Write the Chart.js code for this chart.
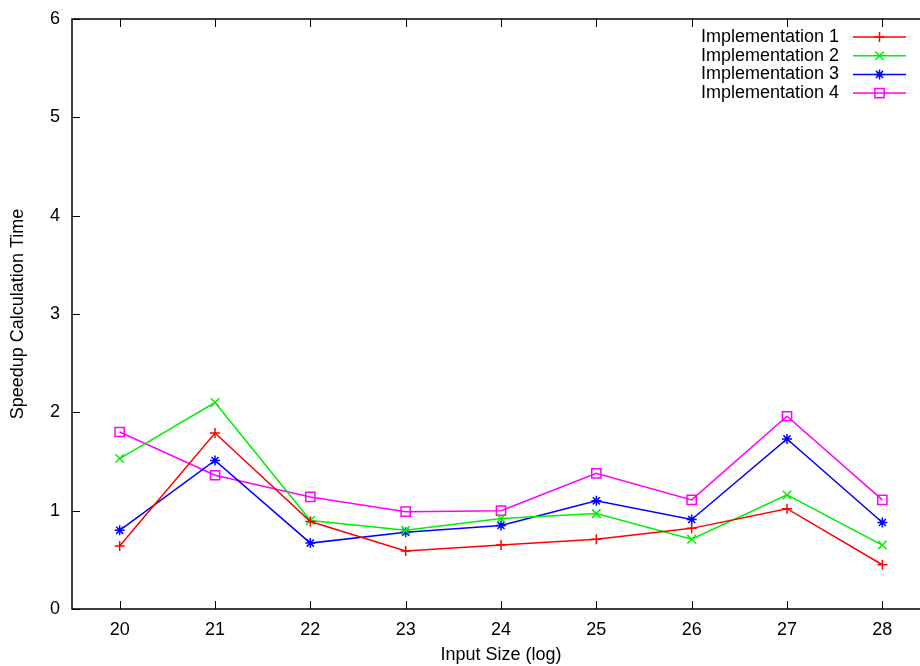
<!DOCTYPE html>
<html>
<head>
<meta charset="utf-8">
<script src="https://cdn.jsdelivr.net/npm/chart.js@4.4.0/dist/chart.umd.min.js"></script>
<style>
html, body { margin: 0; padding: 0; background: #fff; overflow: hidden; }
#wrap { width: 940px; height: 666px; }
</style>
</head>
<body>
<div id="wrap"><canvas id="speedupChart" width="940" height="666"></canvas></div>
<script>
// values
const inputSizes = ['20', '21', '22', '23', '24', '25', '26', '27', '28'];
const impl1 = [0.64, 1.79, 0.89, 0.59, 0.65, 0.71, 0.82, 1.02, 0.45];
const impl2 = [1.53, 2.10, 0.90, 0.80, 0.92, 0.97, 0.71, 1.16, 0.65];
const impl3 = [0.80, 1.51, 0.67, 0.78, 0.85, 1.10, 0.91, 1.73, 0.88];
const impl4 = [1.80, 1.36, 1.14, 0.99, 1.00, 1.38, 1.11, 1.96, 1.11];
const yTicks = [0, 1, 2, 3, 4, 5, 6];

const FONT = '"Liberation Sans", Arial, Helvetica, sans-serif';
Chart.defaults.font.family = FONT;
Chart.defaults.font.size = 18;
Chart.defaults.color = '#000';

function series(label, data, color, style, radius) {
    return {
        label: label,
        data: data,
        borderColor: color,
        backgroundColor: 'rgba(0,0,0,0)',
        borderWidth: 1.5,
        pointStyle: style,
        pointRadius: radius,
        pointHoverRadius: radius,
        pointBorderColor: color,
        pointBackgroundColor: 'rgba(0,0,0,0)',
        pointBorderWidth: 1.5,
        tension: 0,
        fill: false
    };
}

// gnuplot-like frame with inward ticks
const frameTicks = {
    id: 'frameTicks',
    afterDraw(chart) {
        const ctx = chart.ctx;
        const a = chart.chartArea;
        const xs = chart.scales.x, ys = chart.scales.y;
        const tl = 8;
        ctx.save();
        ctx.strokeStyle = '#000';
        ctx.lineWidth = 1.5;
        ctx.strokeRect(a.left, a.top, a.right - a.left, a.bottom - a.top);
        ctx.lineWidth = 1;
        ctx.beginPath();
        xs.ticks.forEach((t, i) => {
            const x = Math.round(xs.getPixelForTick(i)) + 0.5;
            ctx.moveTo(x, a.bottom); ctx.lineTo(x, a.bottom - tl);
            ctx.moveTo(x, a.top); ctx.lineTo(x, a.top + tl);
        });
        ys.ticks.forEach((t, i) => {
            const y = Math.round(ys.getPixelForTick(i)) + 0.5;
            ctx.moveTo(a.left, y); ctx.lineTo(a.left + tl, y);
            ctx.moveTo(a.right, y); ctx.lineTo(a.right - tl, y);
        });
        ctx.stroke();
        ctx.restore();
    }
};

// legend in the top right, text first then the line sample
const gnuLegend = {
    id: 'gnuLegend',
    afterDraw(chart) {
        const ctx = chart.ctx;
        const textRight = 839, lineStart = 853, lineEnd = 906, top = 37, rowGap = 18.7;
        chart.data.datasets.forEach((ds, i) => {
            const y = top + i * rowGap;
            ctx.save();
            ctx.font = '18px ' + FONT;
            ctx.fillStyle = '#000';
            ctx.textAlign = 'right';
            ctx.textBaseline = 'middle';
            ctx.fillText(ds.label, textRight, y);
            ctx.strokeStyle = ds.borderColor;
            ctx.lineWidth = ds.borderWidth;
            ctx.beginPath();
            ctx.moveTo(lineStart, y);
            ctx.lineTo(lineEnd, y);
            ctx.stroke();
            ctx.fillStyle = 'rgba(0,0,0,0)';
            Chart.helpers.drawPoint(ctx, {
                pointStyle: ds.pointStyle,
                radius: ds.pointRadius,
                borderWidth: ds.pointBorderWidth,
                rotation: 0
            }, (lineStart + lineEnd) / 2, y);
            ctx.restore();
        });
    }
};

const ctx = document.getElementById('speedupChart').getContext('2d');
const speedupChart = new Chart(ctx, {
    type: 'line',
    data: {
        labels: inputSizes,
        datasets: [
            series('Implementation 1', impl1, '#ff0000', 'cross', 5),
            series('Implementation 2', impl2, '#00ee00', 'crossRot', 6),
            series('Implementation 3', impl3, '#0000ff', 'star', 5),
            series('Implementation 4', impl4, '#ff00ff', 'rect', 6.5)
        ]
    },
    options: {
        responsive: false,
        animation: false,
        events: [],
        layout: { padding: { top: 19, right: 10, left: 0, bottom: 0 } },
        plugins: {
            legend: { display: false },
            tooltip: { enabled: false }
        },
        scales: {
            x: {
                type: 'category',
                offset: true,
                grid: { display: false, drawTicks: false, offset: false },
                border: { display: false },
                ticks: { padding: 10, maxRotation: 0, autoSkip: false },
                title: { display: true, text: 'Input Size (log)', padding: { top: 0, bottom: 0 } },
                afterFit: s => { s.height = 57; s.paddingLeft = 0; s.paddingRight = 0; }
            },
            y: {
                min: 0,
                max: 6,
                afterBuildTicks: s => { s.ticks = yTicks.map(v => ({ value: v })); },
                grid: { display: false, drawTicks: false },
                border: { display: false },
                ticks: { padding: 12 },
                title: { display: true, text: 'Speedup Calculation Time', padding: { top: 7, bottom: 0 } },
                afterFit: s => { s.width = 72; s.paddingTop = 0; s.paddingBottom = 0; }
            }
        }
    },
    plugins: [frameTicks, gnuLegend]
});
</script>
</body>
</html>
